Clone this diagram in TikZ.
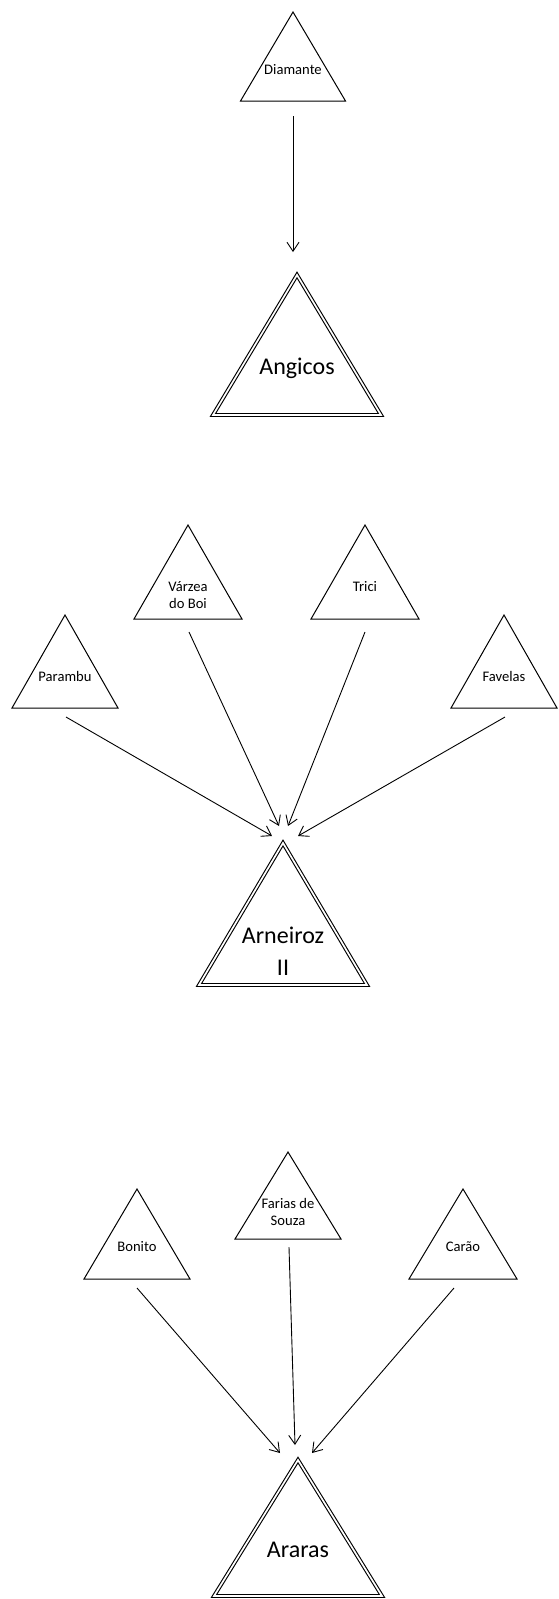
\documentclass[tikz,border=0pt]{standalone}
\usepackage{fontspec}
\setmainfont{Carlito}
\usetikzlibrary{arrows.meta}
\tikzset{
  small/.style={font=\fontsize{14.6}{17.8}\selectfont, inner sep=0pt, align=center},
  big/.style={font=\fontsize{24}{32}\selectfont, inner sep=0pt, align=center},
  single/.style={draw=black, line width=1pt, line join=miter},
  dbl/.style={draw=black, double=white, line width=1.1pt, double distance=1.7pt, line join=miter},
  link/.style={draw=black, line width=0.9pt, -{Straight Barb[length=9pt,width=12pt,line width=0.9pt]}}
}
% #1 apex x, #2 apex y, #3 base y, #4 half width, #5 style
\newcommand\trishape[5]{\path[#5] (#1,#2) -- ({#1+#4},#3) -- ({#1-#4},#3) -- cycle;}
\begin{document}
\begin{tikzpicture}[x=1pt,y=-1pt]
\fill[white] (0,0) rectangle (558,1599);
\useasboundingbox (0,0) rectangle (558,1599);

% ---------- group 1
\trishape{293}{12}{101}{52.5}{single}
\node[small] (diamante) at (293,70) {Diamante};
\trishape{297}{275}{415}{84}{dbl}
\node[big] (angicos) at (297,368) {Angicos};
\coordinate (diamante-out) at (293,116);
\coordinate (angicos-in) at (293,252);
\draw[link] (diamante-out) -- (angicos-in);

% ---------- group 2
\trishape{65}{615}{708}{53}{single}
\node[small] (parambu) at (65,676) {Parambu};
\trishape{188}{525}{619}{54}{single}
\node[small] (varzea) at (188,595) {Várzea\\do Boi};
\trishape{365}{525}{619}{54}{single}
\node[small] (trici) at (365,587) {Trici};
\trishape{504}{615}{708}{53}{single}
\node[small] (favelas) at (504,676) {Favelas};
\trishape{283}{843}{985}{84}{dbl}
\node[big] (arneiroz) at (283,951) {Arneiroz\\II};

\coordinate (parambu-out) at (66,717);
\coordinate (varzea-out) at (189,632);
\coordinate (trici-out) at (365,632);
\coordinate (favelas-out) at (505,717);
\coordinate (arn-in1) at (272,836);
\coordinate (arn-in2) at (279,826);
\coordinate (arn-in3) at (288,826);
\coordinate (arn-in4) at (298,836);
\draw[link] (parambu-out) -- (arn-in1);
\draw[link] (varzea-out) -- (arn-in2);
\draw[link] (trici-out) -- (arn-in3);
\draw[link] (favelas-out) -- (arn-in4);

% ---------- group 3
\trishape{137}{1189}{1279}{53}{single}
\node[small] (bonito) at (137,1247) {Bonito};
\trishape{288}{1152}{1239}{53}{single}
\node[small] (farias) at (288,1212) {Farias de\\Souza};
\trishape{463}{1189}{1279}{54}{single}
\node[small] (carao) at (463,1247) {Carão};
\trishape{298}{1460}{1596}{84}{dbl}
\node[big] (araras) at (298,1550) {Araras};

\coordinate (bonito-out) at (137,1288);
\coordinate (farias-out) at (289,1247);
\coordinate (carao-out) at (454,1288);
\coordinate (ara-in1) at (280,1453);
\coordinate (ara-in2) at (295,1445);
\coordinate (ara-in3) at (312,1453);
\draw[link] (bonito-out) -- (ara-in1);
\draw[link] (farias-out) -- (ara-in2);
\draw[link] (carao-out) -- (ara-in3);
\end{tikzpicture}
\end{document}
